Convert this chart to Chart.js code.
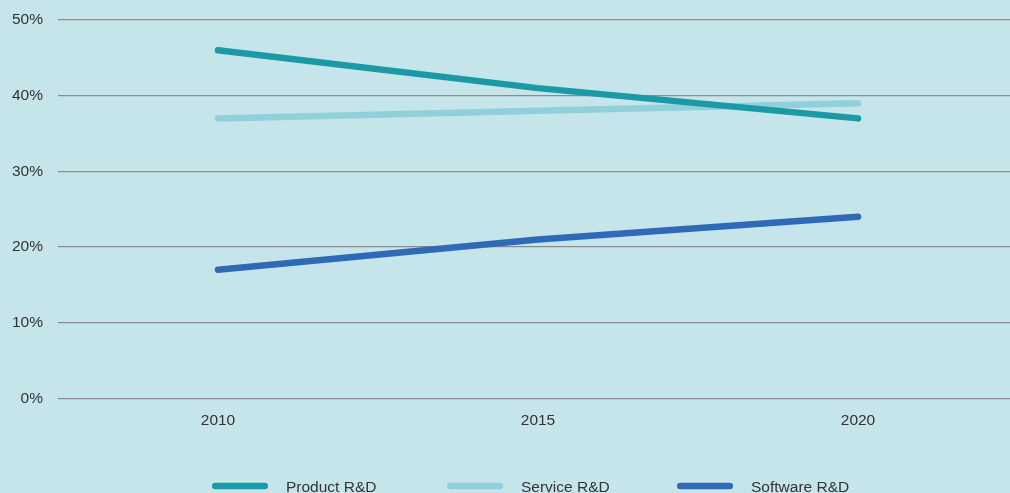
<!DOCTYPE html>
<html>
<head>
<meta charset="utf-8">
<script src="https://cdn.jsdelivr.net/npm/chart.js@4"></script>
<style>
    html, body { margin: 0; padding: 0; overflow: hidden; background: #c6e5ea; }
    #wrap { position: relative; width: 1018px; height: 493px; }
</style>
</head>
<body>
<div id="wrap"><canvas id="grafico"></canvas></div>
<script>
// Dados do gráfico
const anos = ['2010', '2015', '2020'];
const produto = [46, 41, 37];
const servico = [37, 38, 39];
const software = [17, 21, 24];
const nomes = ['Product R&D', 'Service R&D', 'Software R&D'];
const cores = ['#1a9aa7', '#8fd0db', '#2e6ab5'];
const ticksY = [0, 10, 20, 30, 40, 50];

const fonte = '"Liberation Sans", Arial, sans-serif';
Chart.defaults.font.family = fonte;
Chart.defaults.font.size = 15.5;
Chart.defaults.color = '#333333';

const series = [produto, servico, software];

// Legenda desenhada no rodapé (linha + texto), a partir dos datasets
const legendaRodape = {
    id: 'legendaRodape',
    afterDraw(chart) {
        const c = chart.ctx;
        const inicio = [212, 447, 677];
        const y = 486;
        c.save();
        chart.data.datasets.forEach((ds, i) => {
            c.strokeStyle = ds.borderColor;
            c.lineWidth = ds.borderWidth;
            c.lineCap = 'round';
            c.beginPath();
            c.moveTo(inicio[i] + 3.25, y);
            c.lineTo(inicio[i] + 56 - 3.25, y);
            c.stroke();
            c.fillStyle = '#333333';
            c.font = '15.5px ' + fonte;
            c.textBaseline = 'alphabetic';
            c.fillText(ds.label, inicio[i] + 74, 491.5);
        });
        c.restore();
    }
};

const ctx = document.getElementById('grafico').getContext('2d');
new Chart(ctx, {
    type: 'line',
    data: {
        labels: anos,
        datasets: series.map((valores, i) => ({
            label: nomes[i],
            data: valores,
            borderColor: cores[i],
            backgroundColor: cores[i],
            borderWidth: 6.5,
            borderCapStyle: 'round',
            pointRadius: 0,
            tension: 0
        }))
    },
    plugins: [legendaRodape],
    options: {
        responsive: true,
        maintainAspectRatio: false,
        animation: false,
        layout: { padding: { top: 20, right: 0, left: 0, bottom: 50 } },
        plugins: {
            tooltip: { enabled: false },
            legend: { display: false }
        },
        scales: {
            x: {
                offset: true,
                grid: { display: false, drawTicks: false },
                border: { display: false },
                ticks: { padding: 13, maxRotation: 0 }
            },
            y: {
                min: 0,
                max: 50,
                afterBuildTicks: (scale) => { scale.ticks = ticksY.map(v => ({ value: v })); },
                grid: { color: '#8c8c8c', lineWidth: 1.2, drawTicks: false },
                border: { display: false },
                ticks: { padding: 15, callback: (v) => v + '%' },
                afterFit: (scale) => {
                    scale.width = 58;
                    scale.paddingTop = 0;
                }
            }
        }
    }
});
</script>
</body>
</html>
